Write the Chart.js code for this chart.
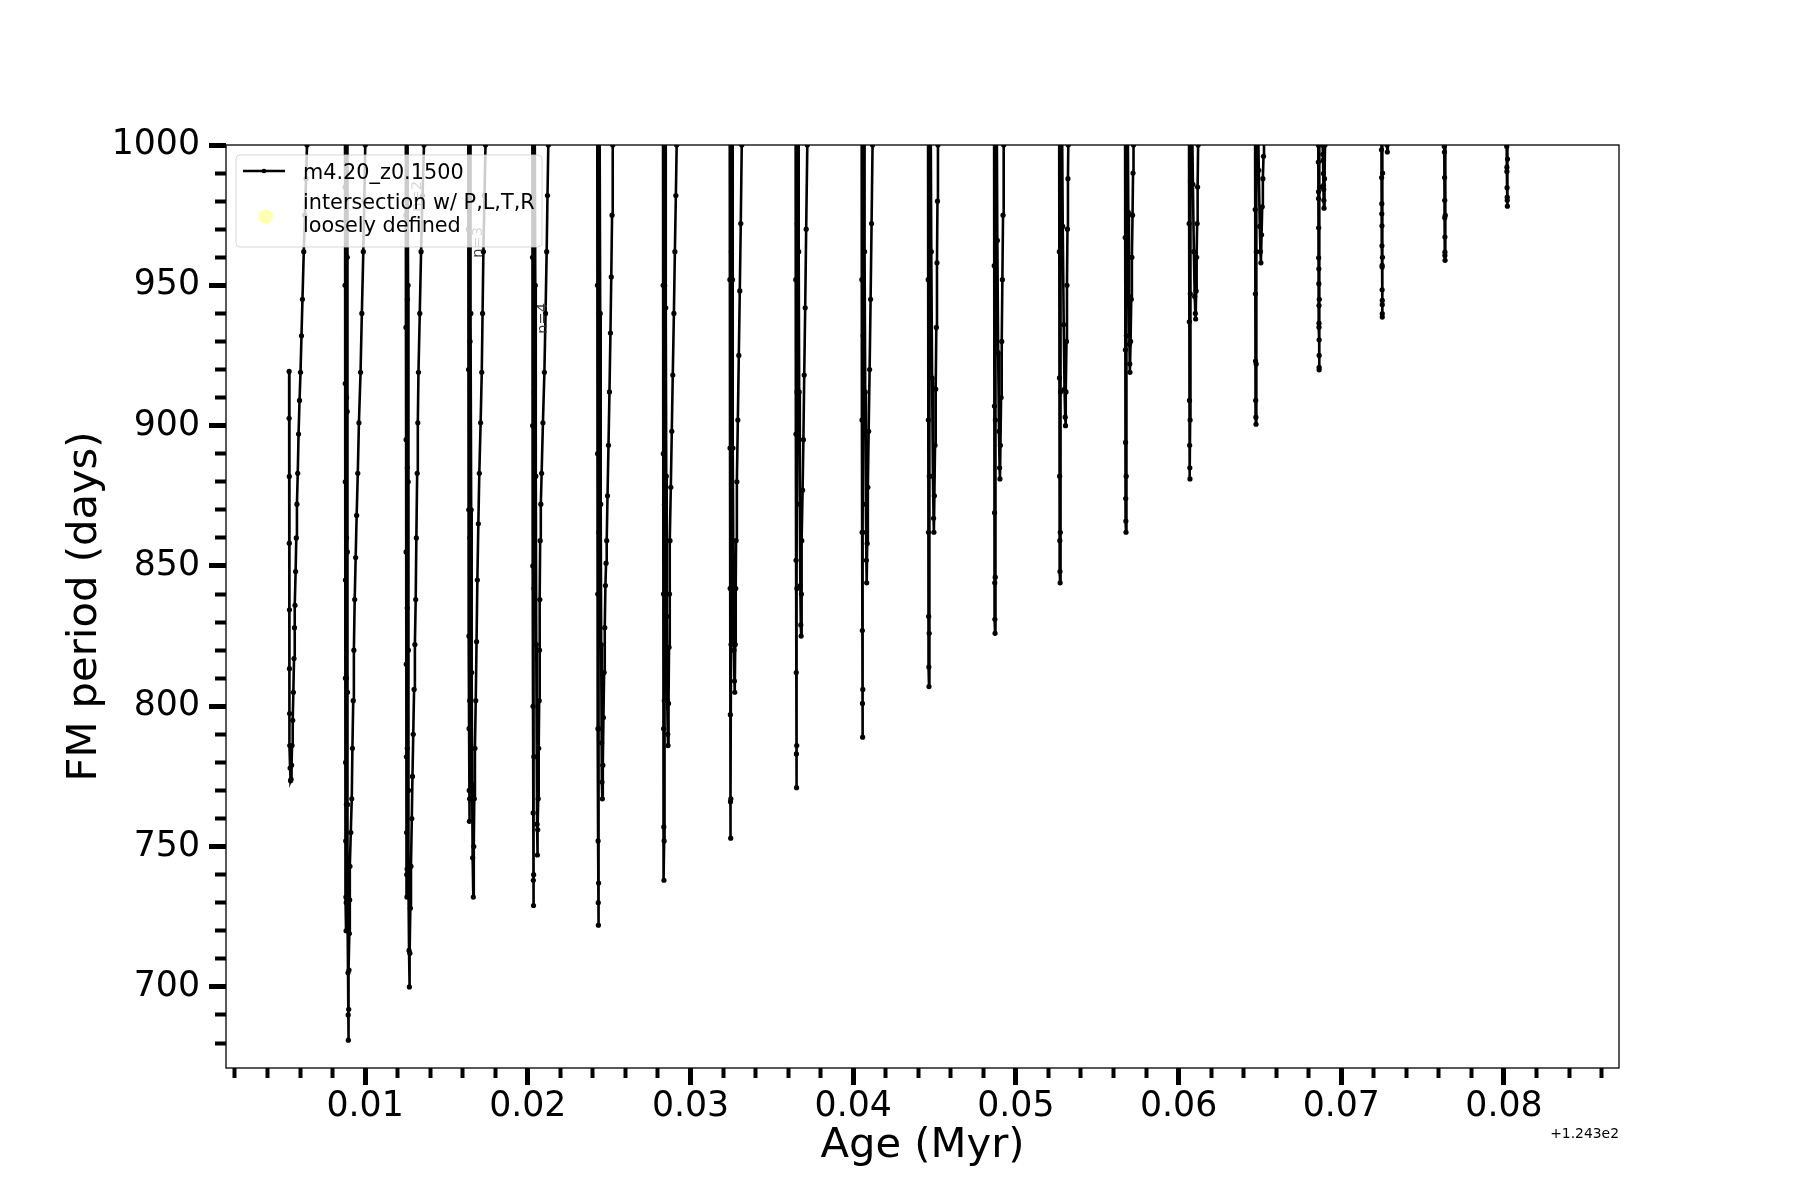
<!DOCTYPE html>
<html>
<head>
<meta charset="utf-8">
<script src="https://cdn.jsdelivr.net/npm/chart.js@4.4.1/dist/chart.umd.min.js"></script>
<style>
  html, body { margin: 0; padding: 0; background: #ffffff; }
  #wrap { width: 1800px; height: 1200px; }
</style>
</head>
<body>
<div id="wrap"><canvas id="c" width="1800" height="1200"></canvas></div>
<script>
// ---- data (age offsets in Myr relative to 124.3, FM period in days) ----
const seriesLabel = 'm4.20_z0.1500';
const intersectLabel = ['intersection w/ P,L,T,R', 'loosely defined'];
const ageOffsetText = '+1.243e2';
const intersectAge = [];
const intersectPeriod = [];

const pulse01 = [[0.00533,919.3],[0.00533,902.6],[0.00534,881.9],[0.00534,858.1],[0.00535,834.4],[0.00535,813.4],[0.00536,797.4],[0.00537,786],[0.00539,778],[0.00542,773.5],[0.00545,774],[0.00548,779],[0.00551,786],[0.00555,795],[0.00559,805],[0.00563,817],[0.00566,828],[0.00569,836],[0.00573,848],[0.00577,860],[0.00581,872],[0.00586,883],[0.00591,897],[0.00597,909],[0.00603,919],[0.00609,932],[0.00615,945],[0.00623,962],[0.00630,975],[0.00637,988],[0.00643,1000],[0.00647,1015]];
const pulse02 = [[0.00876,1015],[0.00877,985],[0.00877,950],[0.00878,915],[0.00878,880],[0.00879,845],[0.00879,810],[0.00880,780],[0.00881,752],[0.00882,732],[0.00883,720],[0.00884,730],[0.00885,765],[0.00885,810],[0.00886,860],[0.00886,910],[0.00887,960],[0.00887,1015],[0.00889,1015],[0.00890,960],[0.00890,905],[0.00891,855],[0.00892,805],[0.00893,765],[0.00894,730],[0.00895,705],[0.00896,690],[0.00897,681],[0.00899,692],[0.00901,706],[0.00903,719],[0.00905,731],[0.00907,743],[0.00912,755],[0.00918,767],[0.00922,785],[0.00927,802],[0.00931,820],[0.00936,838],[0.00942,853],[0.00948,868],[0.00955,883],[0.00962,901],[0.00972,919],[0.00980,940],[0.00989,962],[0.00995,980],[0.01001,1000],[0.01005,1015]];
const pulse03 = [[0.01250,1015],[0.01251,975],[0.01251,935],[0.01252,895],[0.01252,855],[0.01253,815],[0.01254,782],[0.01255,755],[0.01256,740],[0.01257,732],[0.01258,742],[0.01259,785],[0.01259,835],[0.01260,885],[0.01260,945],[0.01261,1015],[0.01263,1015],[0.01264,950],[0.01265,880],[0.01266,820],[0.01267,770],[0.01268,737],[0.01270,713],[0.01272,700],[0.01275,712],[0.01278,728],[0.01282,743],[0.01287,760],[0.01291,775],[0.01296,790],[0.01301,806],[0.01306,822],[0.01311,838],[0.01315,860],[0.01320,883],[0.01324,901],[0.01328,919],[0.01336,940],[0.01344,962],[0.01353,982],[0.01362,1000],[0.01366,1015]];
const pulse04 = [[0.01634,1015],[0.01635,970],[0.01636,920],[0.01637,870],[0.01638,825],[0.01639,792],[0.01640,770],[0.01641,759],[0.01642,767],[0.01643,802],[0.01644,860],[0.01645,930],[0.01646,1015],[0.01648,1015],[0.01650,940],[0.01652,870],[0.01655,812],[0.01658,772],[0.01661,746],[0.01665,732],[0.01668,750],[0.01671,767],[0.01675,785],[0.01680,802],[0.01685,823],[0.01690,845],[0.01696,865],[0.01702,883],[0.01710,901],[0.01717,919],[0.01722,940],[0.01727,962],[0.01734,982],[0.01740,1000],[0.01744,1015]];
const pulse05 = [[0.02028,1015],[0.02029,960],[0.02030,900],[0.02031,850],[0.02032,800],[0.02033,762],[0.02034,738],[0.02035,729],[0.02036,740],[0.02037,782],[0.02038,842],[0.02039,912],[0.02040,1015],[0.02044,1015],[0.02046,950],[0.02049,882],[0.02052,822],[0.02055,782],[0.02057,758],[0.02059,747],[0.02061,756],[0.02064,767],[0.02067,785],[0.02070,802],[0.02072,820],[0.02074,838],[0.02076,859],[0.02080,872],[0.02085,883],[0.02093,901],[0.02102,919],[0.02109,940],[0.02116,962],[0.02121,982],[0.02126,1000],[0.02129,1015]];
const pulse06 = [[0.02427,1015],[0.02428,950],[0.02429,890],[0.02430,840],[0.02431,792],[0.02432,752],[0.02433,730],[0.02434,722],[0.02435,737],[0.02436,792],[0.02437,862],[0.02438,940],[0.02439,1015],[0.02443,1015],[0.02445,940],[0.02448,872],[0.02451,822],[0.02454,787],[0.02456,773],[0.02458,767],[0.02461,779],[0.02465,796],[0.02469,812],[0.02473,828],[0.02477,843],[0.02481,851],[0.02485,859],[0.02490,875],[0.02496,893],[0.02502,912],[0.02508,933],[0.02513,953],[0.02518,975],[0.02522,1000],[0.02525,1015]];
const pulse07 = [[0.02831,1015],[0.02832,950],[0.02833,890],[0.02834,840],[0.02835,792],[0.02836,757],[0.02837,738],[0.02838,752],[0.02839,802],[0.02840,872],[0.02841,950],[0.02842,1015],[0.02846,1015],[0.02848,942],[0.02851,882],[0.02854,832],[0.02857,802],[0.02860,790],[0.02862,786],[0.02865,801],[0.02868,821],[0.02871,840],[0.02874,859],[0.02879,878],[0.02885,898],[0.02891,918],[0.02898,940],[0.02904,962],[0.02910,982],[0.02915,1000],[0.02918,1015]];
const pulse08 = [[0.03241,1015],[0.03242,952],[0.03243,892],[0.03244,842],[0.03245,797],[0.03246,766],[0.03247,753],[0.03248,767],[0.03249,822],[0.03250,892],[0.03251,962],[0.03252,1015],[0.03256,1015],[0.03258,952],[0.03261,892],[0.03264,847],[0.03267,820],[0.03270,809],[0.03272,805],[0.03275,822],[0.03278,842],[0.03280,859],[0.03285,880],[0.03291,902],[0.03297,925],[0.03303,948],[0.03309,972],[0.03315,1000],[0.03318,1015]];
const pulse09 = [[0.03646,1015],[0.03647,952],[0.03648,897],[0.03649,852],[0.03650,812],[0.03651,783],[0.03652,771],[0.03653,786],[0.03654,842],[0.03655,912],[0.03656,972],[0.03657,1015],[0.03662,1015],[0.03665,962],[0.03668,912],[0.03672,872],[0.03675,843],[0.03678,829],[0.03680,825],[0.03682,840],[0.03684,859],[0.03689,877],[0.03694,895],[0.03699,918],[0.03705,942],[0.03711,970],[0.03718,1000],[0.03721,1015]];
const pulse10 = [[0.04052,1015],[0.04053,952],[0.04054,902],[0.04055,862],[0.04056,827],[0.04057,801],[0.04058,789],[0.04059,806],[0.04060,862],[0.04061,932],[0.04062,1015],[0.04067,1015],[0.04070,962],[0.04074,912],[0.04078,872],[0.04081,852],[0.04083,844],[0.04086,858],[0.04090,878],[0.04095,898],[0.04101,920],[0.04107,945],[0.04113,972],[0.04119,1000],[0.04122,1015]];
const pulse11 = [[0.04460,1015],[0.04461,952],[0.04462,902],[0.04463,862],[0.04464,832],[0.04465,814],[0.04466,807],[0.04467,826],[0.04468,882],[0.04469,952],[0.04470,1015],[0.04476,1015],[0.04480,962],[0.04485,917],[0.04490,882],[0.04494,867],[0.04496,862],[0.04499,875],[0.04503,893],[0.04507,913],[0.04511,935],[0.04515,958],[0.04518,980],[0.04521,1000],[0.04523,1015]];
const pulse12 = [[0.04866,1015],[0.04867,957],[0.04868,907],[0.04869,869],[0.04870,844],[0.04871,831],[0.04872,826],[0.04873,846],[0.04874,902],[0.04875,962],[0.04876,1015],[0.04882,1015],[0.04886,966],[0.04891,926],[0.04896,898],[0.04900,885],[0.04902,881],[0.04905,893],[0.04909,910],[0.04913,930],[0.04917,952],[0.04921,975],[0.04925,1000],[0.04927,1015]];
const pulse13 = [[0.05266,1015],[0.05267,962],[0.05268,917],[0.05269,882],[0.05270,859],[0.05271,848],[0.05272,844],[0.05273,862],[0.05274,912],[0.05275,967],[0.05276,1015],[0.05283,1015],[0.05288,971],[0.05294,936],[0.05299,913],[0.05303,903],[0.05305,900],[0.05308,912],[0.05311,930],[0.05314,950],[0.05317,970],[0.05320,988],[0.05322,1000],[0.05324,1015]];
const pulse14 = [[0.05671,1015],[0.05672,967],[0.05673,927],[0.05674,894],[0.05675,874],[0.05676,866],[0.05677,862],[0.05678,882],[0.05679,932],[0.05680,977],[0.05681,1015],[0.05687,1015],[0.05691,976],[0.05695,946],[0.05698,929],[0.05700,922],[0.05701,919],[0.05705,930],[0.05709,945],[0.05713,960],[0.05717,975],[0.05720,990],[0.05723,1000],[0.05726,1015]];
const pulse15 = [[0.06064,1015],[0.06065,972],[0.06066,937],[0.06067,909],[0.06068,893],[0.06069,885],[0.06070,881],[0.06071,902],[0.06072,947],[0.06073,987],[0.06074,1015],[0.06082,1015],[0.06088,986],[0.06094,962],[0.06099,946],[0.06103,940],[0.06105,938],[0.06108,948],[0.06111,960],[0.06114,972],[0.06117,985],[0.06120,1000],[0.06123,1015]];
const pulse16 = [[0.06470,1015],[0.06471,977],[0.06472,947],[0.06473,923],[0.06474,909],[0.06475,903],[0.06476,900.5],[0.06477,922],[0.06478,962],[0.06479,1015],[0.06487,1015],[0.06493,991],[0.06499,971],[0.06503,962],[0.06506,958],[0.06510,968],[0.06514,978],[0.06518,988],[0.06522,996],[0.06525,1003],[0.06527,1015]];
const pulse17 = [[0.06858,1015],[0.06859,999.9],[0.06859,993.9],[0.06860,983.3],[0.06860,980.9],[0.06861,970.5],[0.06861,959.8],[0.06862,955.9],[0.06862,950.6],[0.06863,942.8],[0.06863,936.5],[0.06863,935.1],[0.06864,930.6],[0.06864,925],[0.06864,920.8],[0.06864,919.9],[0.06865,945],[0.06866,985],[0.06867,1015],[0.06884,1015],[0.06886,999.9],[0.06887,996.7],[0.06888,994.5],[0.06890,989.8],[0.06891,985.6],[0.06892,984.1],[0.06893,980.3],[0.06894,977.5],[0.06897,988],[0.06900,1000],[0.06902,1015]];
const pulse18 = [[0.07246,1015],[0.07247,998.3],[0.07248,988.4],[0.07249,979.1],[0.07249,975.5],[0.07250,971.2],[0.07250,964.1],[0.07251,957.1],[0.07251,956.5],[0.07251,948.4],[0.07252,944.6],[0.07252,943.1],[0.07252,939.9],[0.07252,938.7],[0.07253,960],[0.07254,990],[0.07255,1015],[0.07278,1015],[0.07281,1000],[0.07283,997.5],[0.07286,1003],[0.07289,1015]];
const pulse19 = [[0.07631,1015],[0.07633,999.5],[0.07634,997.5],[0.07635,988.4],[0.07636,980.3],[0.07636,974.1],[0.07637,967.2],[0.07637,961.8],[0.07637,960.6],[0.07638,958.9],[0.07639,975],[0.07640,1015]];
const pulse20 = [[0.08015,1015],[0.08017,999.5],[0.08018,992.1],[0.08018,990.6],[0.08019,984.8],[0.08020,981.4],[0.08020,980.3],[0.08021,978.2],[0.08022,995],[0.08023,1015]];

const pulses = [pulse01,pulse02,pulse03,pulse04,pulse05,pulse06,pulse07,pulse08,pulse09,pulse10,
                pulse11,pulse12,pulse13,pulse14,pulse15,pulse16,pulse17,pulse18,pulse19,pulse20];

// annotation labels (rotated text)
const annoText = ['n=2', 'n=3', 'n=4'];
const annoAge = [0.01323, 0.01695, 0.02094];
const annoPeriod = [981.7, 965.3, 938.2];

// axis settings
const xMin = 0.00145, xMax = 0.08707, xStep = 0.002;
const yMin = 671.1, yMax = 1000, yStep = 10;

// ---- build ----
const FONT = '"DejaVu Sans", "Liberation Sans", sans-serif';
const lineData = [];
pulses.forEach(p => p.forEach(([a, per]) => lineData.push({x: a, y: per})));
const intersectData = intersectAge.map((a, i) => ({x: a, y: intersectPeriod[i]}));

const isMajorX = v => Math.abs(Math.round(v / xStep)) % 5 === 0;
const isMajorY = v => Math.abs(Math.round(v)) % 50 === 0;

const overlay = {
  id: 'overlay',
  afterDatasetsDraw(chart) {
    const {ctx, chartArea: a, scales: {x, y}} = chart;
    ctx.save();
    // rotated annotations
    ctx.fillStyle = '#383838';
    ctx.font = '14.5px ' + FONT;
    ctx.textAlign = 'center';
    ctx.textBaseline = 'middle';
    annoText.forEach((t, i) => {
      ctx.save();
      ctx.translate(x.getPixelForValue(annoAge[i]), y.getPixelForValue(annoPeriod[i]));
      ctx.rotate(-Math.PI / 2);
      ctx.fillText(t, 0, 0);
      ctx.restore();
    });
    // legend box
    const bx = a.left + 10, by = a.top + 10, bw = 306, bh = 92, r = 4;
    ctx.beginPath();
    ctx.moveTo(bx + r, by);
    ctx.lineTo(bx + bw - r, by); ctx.arcTo(bx + bw, by, bx + bw, by + r, r);
    ctx.lineTo(bx + bw, by + bh - r); ctx.arcTo(bx + bw, by + bh, bx + bw - r, by + bh, r);
    ctx.lineTo(bx + r, by + bh); ctx.arcTo(bx, by + bh, bx, by + bh - r, r);
    ctx.lineTo(bx, by + r); ctx.arcTo(bx, by, bx + r, by, r);
    ctx.closePath();
    ctx.fillStyle = 'rgba(255,255,255,0.8)';
    ctx.fill();
    ctx.strokeStyle = 'rgba(204,204,204,0.8)';
    ctx.lineWidth = 1;
    ctx.stroke();
    // legend entry 1
    const ds = chart.data.datasets[0];
    ctx.strokeStyle = ds.borderColor;
    ctx.lineWidth = ds.borderWidth;
    ctx.beginPath();
    ctx.moveTo(a.left + 17, a.top + 26);
    ctx.lineTo(a.left + 59, a.top + 26);
    ctx.stroke();
    ctx.fillStyle = '#000';
    ctx.beginPath();
    ctx.arc(a.left + 38, a.top + 26, 2.3, 0, Math.PI * 2);
    ctx.fill();
    ctx.font = '20.8px ' + FONT;
    ctx.textAlign = 'left';
    ctx.textBaseline = 'alphabetic';
    ctx.fillStyle = '#000';
    ctx.fillText(ds.label, a.left + 77, a.top + 33.5);
    // legend entry 2
    const ds2 = chart.data.datasets[1];
    ctx.fillStyle = ds2.pointBackgroundColor;
    ctx.beginPath();
    ctx.arc(a.left + 39.5, a.top + 71.5, 7.3, 0, Math.PI * 2);
    ctx.fill();
    ctx.fillStyle = '#000';
    ctx.fillText(intersectLabel[0], a.left + 77, a.top + 64.3);
    ctx.fillText(intersectLabel[1], a.left + 77, a.top + 87);
    // frame
    ctx.strokeStyle = '#000';
    ctx.lineWidth = 1.3;
    ctx.strokeRect(a.left, a.top, a.right - a.left, a.bottom - a.top);
    // offset text
    ctx.font = '13.9px ' + FONT;
    ctx.textAlign = 'right';
    ctx.fillText(ageOffsetText, a.right, a.bottom + 70);
    ctx.restore();
  }
};

new Chart(document.getElementById('c'), {
  type: 'line',
  data: {
    datasets: [
      {
        label: seriesLabel,
        data: lineData,
        borderColor: '#000',
        borderWidth: 2.6,
        pointRadius: 2.6,
        pointBorderWidth: 0,
        pointBackgroundColor: '#000',
        pointHoverRadius: 2.6,
        tension: 0,
        fill: false
      },
      {
        label: intersectLabel.join(' '),
        data: intersectData,
        showLine: false,
        pointRadius: 7,
        pointBackgroundColor: 'rgba(255,255,0,0.3)',
        pointBorderWidth: 0
      }
    ]
  },
  options: {
    responsive: false,
    animation: false,
    devicePixelRatio: 1,
    layout: { padding: { left: 0, top: 145, right: 181, bottom: 0 } },
    plugins: { legend: { display: false }, tooltip: { enabled: false } },
    events: [],
    scales: {
      x: {
        type: 'linear',
        min: xMin, max: xMax,
        afterFit: s => { s.height = 132; },
        border: { display: false },
        grid: {
          drawOnChartArea: false,
          drawTicks: true,
          tickLength: 17,
          tickColor: '#000',
          tickWidth: c => (c.tick && isMajorX(c.tick.value)) ? 5 : 4,
          tickBorderDash: c => (c.tick && isMajorX(c.tick.value)) ? [] : [10, 100]
        },
        ticks: {
          stepSize: xStep,
          autoSkip: false,
          includeBounds: false,
          maxRotation: 0,
          padding: 1,
          color: '#000',
          font: { family: FONT, size: 34.7 },
          callback: v => isMajorX(v) ? v.toFixed(2) : ''
        },
        title: {
          display: true,
          text: 'Age (Myr)',
          color: '#000',
          font: { family: FONT, size: 41.7 },
          padding: { top: 0, bottom: 29 }
        }
      },
      y: {
        type: 'linear',
        min: yMin, max: yMax,
        afterFit: s => { s.width = 226; },
        border: { display: false },
        grid: {
          drawOnChartArea: false,
          drawTicks: true,
          tickLength: 17,
          tickColor: '#000',
          tickWidth: c => (c.tick && isMajorY(c.tick.value)) ? 5 : 4,
          tickBorderDash: c => (c.tick && isMajorY(c.tick.value)) ? [] : [0, 6, 11, 0]
        },
        ticks: {
          stepSize: yStep,
          autoSkip: false,
          includeBounds: false,
          padding: 9,
          color: '#000',
          font: { family: FONT, size: 34.7 },
          callback: v => isMajorY(v) ? String(Math.round(v)) : ''
        },
        title: {
          display: true,
          text: 'FM period (days)',
          color: '#000',
          font: { family: FONT, size: 41.7 },
          padding: { top: 60, bottom: 0 }
        }
      }
    }
  },
  plugins: [overlay]
});
</script>
</body>
</html>
